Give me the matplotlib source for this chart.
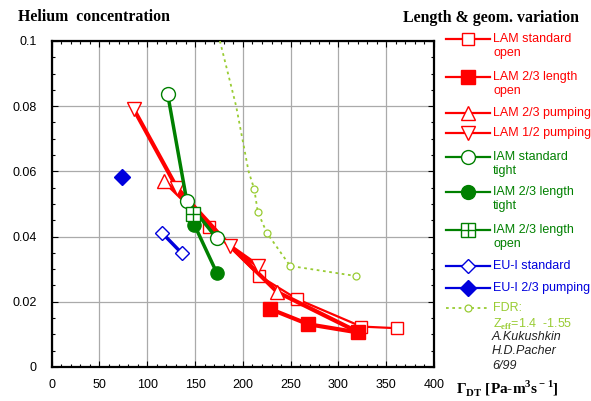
import numpy as np
import matplotlib
matplotlib.use('Agg')
import matplotlib.pyplot as plt
from matplotlib.ticker import MultipleLocator

plt.rcParams['font.family'] = ['Liberation Sans', 'DejaVu Sans']
plt.rcParams['mathtext.fontset'] = 'custom'
plt.rcParams['mathtext.rm'] = 'Liberation Serif:bold'
plt.rcParams['mathtext.bf'] = 'Liberation Serif:bold'

# data (x = Gamma_DT, y = helium concentration)
lam_std_x = [165, 217, 257, 324, 361]
lam_std_y = [0.043, 0.028, 0.0208, 0.0124, 0.0119]
lam_23len_x = [228.5, 268.7, 320.4]
lam_23len_y = [0.0178, 0.0131, 0.0106]
lam_23pump_x = [118, 236, 320]
lam_23pump_y = [0.057, 0.023, 0.0108]
lam_12pump_x = [86, 131, 187, 216]
lam_12pump_y = [0.079, 0.055, 0.037, 0.031]
iam_std_x = [121.4, 141.3, 172.7]
iam_std_y = [0.0836, 0.051, 0.0395]
iam_23tight_x = [149.3, 172.7]
iam_23tight_y = [0.0436, 0.0289]
iam_23open_x = [147.6]
iam_23open_y = [0.0469]
eu_std_x = [115.2, 136.1]
eu_std_y = [0.0412, 0.0349]
eu_23pump_x = [73.3]
eu_23pump_y = [0.0584]
fdr_x = [176, 193, 206, 212, 215.6, 225, 249.5, 318.6]
fdr_y = [0.1, 0.08, 0.06, 0.0545, 0.0476, 0.0412, 0.031, 0.0279]

RED = '#ff0000'
GREEN = '#008000'
BLUE = '#0000dd'
YG = '#99cc33'

fig = plt.figure(figsize=(5.91, 4.01), dpi=100)
ax = fig.add_axes([0.0875, 0.0848, 0.6468, 0.8130])

# red LAM series
ax.plot(lam_std_x, lam_std_y, color=RED, lw=1.6, marker='s', ms=8.5,
        mfc='white', mec=RED, mew=1, zorder=3)
ax.plot(lam_23pump_x, lam_23pump_y, color=RED, lw=3, marker='^', ms=10,
        mfc='white', mec=RED, mew=1, markevery=[0, 1], zorder=3)
ax.plot(lam_12pump_x, lam_12pump_y, color=RED, lw=3, marker='v', ms=10,
        mfc='white', mec=RED, mew=1, zorder=3)
ax.plot(lam_23len_x, lam_23len_y, color=RED, lw=3, marker='s', ms=9.5,
        mfc=RED, mec=RED, zorder=4)

# green IAM series
ax.plot(iam_std_x, iam_std_y, color=GREEN, lw=2.5, marker='o', ms=10,
        mfc='white', mec=GREEN, mew=1, zorder=5)
ax.plot(iam_23tight_x, iam_23tight_y, color=GREEN, lw=2.5, marker='o', ms=9.5,
        mfc=GREEN, mec=GREEN, zorder=5)
ax.plot(iam_23open_x, iam_23open_y, color=GREEN, lw=2.5, marker='s', ms=10,
        mfc='white', mec=GREEN, mew=1, zorder=6)
ax.plot(iam_23open_x, iam_23open_y, color=GREEN, marker='+', ms=10, mew=1,
        ls='none', zorder=6)

# blue EU-I series
ax.plot(eu_std_x, eu_std_y, color=BLUE, lw=2.5, marker='D', ms=7,
        mfc='white', mec=BLUE, mew=1, zorder=5)
ax.plot(eu_23pump_x, eu_23pump_y, color=BLUE, lw=2.5, marker='D', ms=8,
        mfc=BLUE, mec=BLUE, zorder=5)

# FDR
ax.plot(fdr_x, fdr_y, color=YG, lw=1.3, ls=(0, (1.5, 2)), marker='o', ms=5,
        mfc='white', mec=YG, mew=0.9, markevery=list(range(3, len(fdr_x))),
        zorder=3)

ax.set_xlim(0, 400)
ax.set_ylim(0, 0.1)
ax.set_xticks(range(0, 401, 50))
ax.set_yticks([0, 0.02, 0.04, 0.06, 0.08, 0.1])
ax.set_yticklabels(['0', '0.02', '0.04', '0.06', '0.08', '0.1'])
ax.xaxis.set_minor_locator(MultipleLocator(10))
ax.yaxis.set_minor_locator(MultipleLocator(0.005))
ax.grid(True, which='major', color='#aaaaaa', lw=0.9)
ax.tick_params(which='both', direction='in', top=True, right=True,
               labelsize=9, width=0.8)
ax.tick_params(which='major', length=4)
ax.tick_params(which='minor', length=2.5)
ax.tick_params(axis='x', pad=9)
ax.tick_params(axis='y', pad=11)
for sp in ax.spines.values():
    sp.set_linewidth(1.6)

# overlay in pixel coords for titles and legend
lg = fig.add_axes([0, 0, 1, 1])
lg.set_xlim(0, 591)
lg.set_ylim(401, 0)
lg.axis('off')

lg.text(18, 17, 'Helium  concentration', family='Liberation Serif',
        fontweight='bold', fontsize=11.4, va='center', ha='left')
lg.text(403, 18, 'Length & geom. variation', family='Liberation Serif',
        fontweight='bold', fontsize=11.4, va='center', ha='left')
lg.text(456, 388, r'$\Gamma_{\rm DT}$ [Pa-m$^{\rm 3}$s$^{\rm -1}$]',
        family='Liberation Serif', fontweight='bold', fontsize=11,
        va='center', ha='left')

entries = [
    (39, ['LAM standard', 'open'], RED, 's', 'white', 8.5),
    (77, ['LAM 2/3 length', 'open'], RED, 's', RED, 9.5),
    (113, ['LAM 2/3 pumping'], RED, '^', 'white', 10),
    (133, ['LAM 1/2 pumping'], RED, 'v', 'white', 10),
    (157, ['IAM standard', 'tight'], GREEN, 'o', 'white', 10),
    (192, ['IAM 2/3 length', 'tight'], GREEN, 'o', GREEN, 10),
    (230, ['IAM 2/3 length', 'open'], GREEN, 's', 'white', 10),
    (266, ['EU-I standard'], BLUE, 'D', 'white', 7),
    (288, ['EU-I 2/3 pumping'], BLUE, 'D', BLUE, 8),
]
for y, lines, c, m, fc, ms in entries:
    lg.plot([446, 490], [y, y], color=c, lw=1.6)
    lg.plot([468], [y], marker=m, ms=ms, mfc=fc, mec=c, mew=1, color=c)
    if m == 's' and c == GREEN:
        lg.plot([468], [y], marker='+', ms=ms, mew=1, color=c)
    for i, t in enumerate(lines):
        lg.text(493, y + i * 14, t, color=c, fontsize=9, va='center', ha='left')

lg.plot([446, 490], [308, 308], color=YG, lw=1.3, ls=(0, (1.5, 2)))
lg.plot([468], [308], marker='o', ms=5, mfc='white', mec=YG, mew=0.9)
lg.text(493, 308, 'FDR:', color=YG, fontsize=9, va='center', ha='left')
lg.text(493, 324, r'Z$_{\rm eff}$=1.4  -1.55', color=YG, fontsize=9,
        va='center', ha='left')
for i, t in enumerate(['A.Kukushkin', 'H.D.Pacher', '6/99']):
    lg.text(492, 337 + i * 14.5, t, color='#222222', fontsize=9,
            style='italic', va='center', ha='left')

fig.savefig('out.png', dpi=100)
